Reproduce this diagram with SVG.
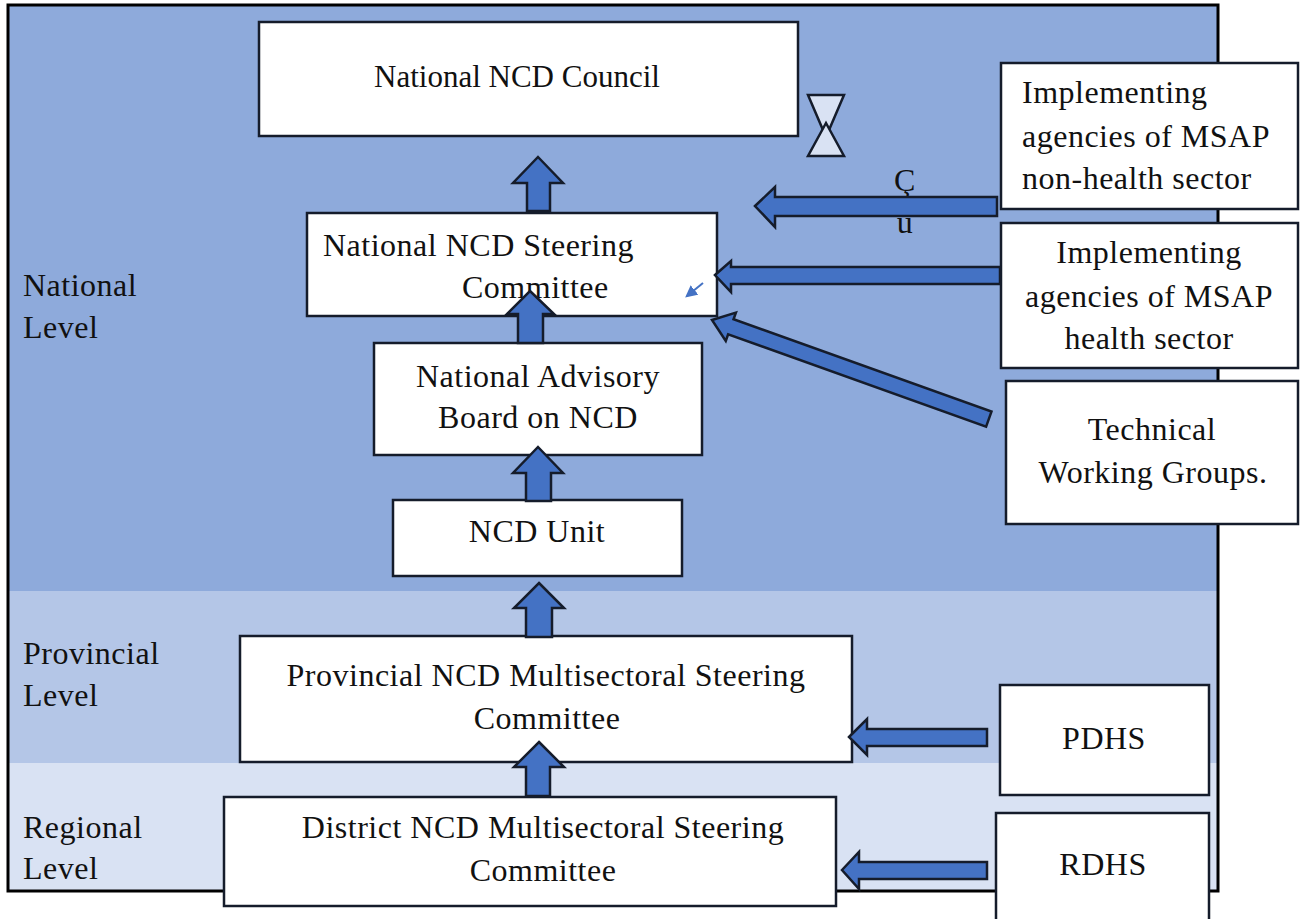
<svg xmlns="http://www.w3.org/2000/svg" width="1304" height="919" viewBox="0 0 1304 919">
<style>
.box{fill:#ffffff;stroke:#151c2b;stroke-width:2.5}
.arr{fill:#4472C4;stroke:#151c2b;stroke-width:2.5;stroke-linejoin:miter}
text{font-family:"Liberation Serif","Times New Roman",serif;font-size:32px;letter-spacing:0.5px;fill:#111111}
.c{text-anchor:middle}
.t{font-size:31px;letter-spacing:0}
</style>
<defs>
<marker id="sm" viewBox="0 0 10 10" refX="8" refY="5" markerWidth="6" markerHeight="6" orient="auto"><path d="M0,0 L10,5 L0,10 Z" fill="#4472C4"/></marker>
</defs>
<rect width="1304" height="919" fill="#ffffff"/>
<g id="bands">
<rect x="8" y="5" width="1210" height="586" fill="#8EAADB"/>
<rect x="8" y="591" width="1210" height="172" fill="#B4C6E7"/>
<rect x="8" y="763" width="1210" height="128" fill="#D9E2F3"/>
<rect x="8" y="5" width="1210" height="886" fill="none" stroke="#000000" stroke-width="3"/>
</g>
<g id="level-labels">
<text x="23" y="296">National</text><text x="23" y="338">Level</text>
<text x="23" y="664">Provincial</text><text x="23" y="706">Level</text>
<text x="23" y="838">Regional</text><text x="23" y="879">Level</text>
</g>
<g id="stray">
<text class="c" x="905" y="191">Ç</text>
<text class="c" x="905" y="233">u</text>
</g>
<g id="n-council"><rect class="box" x="259" y="22" width="539" height="114"/><text class="c t" x="517" y="87">National NCD Council</text></g>
<g id="n-steering"><rect class="box" x="307" y="213" width="410" height="103"/><text x="323" y="256">National NCD Steering</text><text x="462" y="298">Committee</text></g>
<g id="n-advisory"><rect class="box" x="374" y="343" width="328" height="112"/><text class="c" x="538" y="387">National Advisory</text><text class="c" x="538" y="428">Board on NCD</text></g>
<g id="n-unit"><rect class="box" x="393" y="500" width="289" height="76"/><text class="c" x="537" y="542">NCD Unit</text></g>
<g id="n-provincial"><rect class="box" x="240" y="636" width="612" height="126"/><text class="c" x="546" y="686">Provincial NCD Multisectoral Steering</text><text class="c" x="547" y="729">Committee</text></g>
<g id="n-district"><rect class="box" x="224" y="797" width="612" height="109"/><text class="c" x="543" y="838">District NCD Multisectoral Steering</text><text class="c" x="543" y="881">Committee</text></g>
<g id="n-nonhealth"><rect class="box" x="1001" y="63" width="297" height="146"/><text x="1022" y="103">Implementing</text><text x="1022" y="147">agencies of MSAP</text><text x="1022" y="189">non-health sector</text></g>
<g id="n-health"><rect class="box" x="1001" y="223" width="297" height="145"/><text class="c" x="1149" y="263">Implementing</text><text class="c" x="1149" y="307">agencies of MSAP</text><text class="c" x="1149" y="349">health sector</text></g>
<g id="n-twg"><rect class="box" x="1006" y="381" width="292" height="143"/><text class="c" x="1152" y="440">Technical</text><text class="c" x="1153" y="483">Working Groups.</text></g>
<g id="n-pdhs"><rect class="box" x="1000" y="685" width="209" height="110"/><text class="c" x="1104" y="749">PDHS</text></g>
<g id="n-rdhs"><rect class="box" x="996" y="813" width="213" height="120"/><text class="c" x="1103" y="875">RDHS</text></g>
<g id="connectors">
<path class="arr" d="M538,157 L563,183 L550,183 L550,211 L527,211 L527,183 L513,183 Z"/>
<path class="arr" d="M530,291 L554,314 L543,314 L543,343 L518,343 L518,314 L507,314 Z"/>
<path class="arr" d="M538,447 L563,473 L551,473 L551,501 L526,501 L526,473 L513,473 Z"/>
<path class="arr" d="M539,583 L564,608 L552,608 L552,637 L526,637 L526,608 L514,608 Z"/>
<path class="arr" d="M539,742 L564,767 L550,767 L550,796 L526,796 L526,767 L514,767 Z"/>
<path class="arr" d="M755,206 L775,187 L775,197 L997,197 L997,216 L775,216 L775,227 Z"/>
<path class="arr" d="M715,275 L731,261 L731,267 L1000,267 L1000,284 L731,284 L731,292 Z"/>
<path class="arr" transform="translate(712,320) rotate(19.7)" d="M0,0 L20,-15 L20,-8 L294,-8 L294,8 L20,8 L20,15 Z"/>
<path class="arr" d="M849,737 L867,719 L867,729 L987,729 L987,746 L867,746 L867,755 Z"/>
<path class="arr" d="M842,870 L859,852 L859,862 L987,862 L987,879 L859,879 L859,889 Z"/>
<line x1="703" y1="283" x2="687" y2="296" stroke="#4472C4" stroke-width="2" marker-end="url(#sm)"/>
</g>
<g id="collate">
<path d="M808,95 L844,95 L826,137 Z" fill="#D9E2F3" stroke="#151c2b" stroke-width="2.5" stroke-linejoin="miter"/>
<path d="M808,156 L844,156 L826,123 Z" fill="#D9E2F3" stroke="#151c2b" stroke-width="2.5" stroke-linejoin="miter"/>
</g>
</svg>
